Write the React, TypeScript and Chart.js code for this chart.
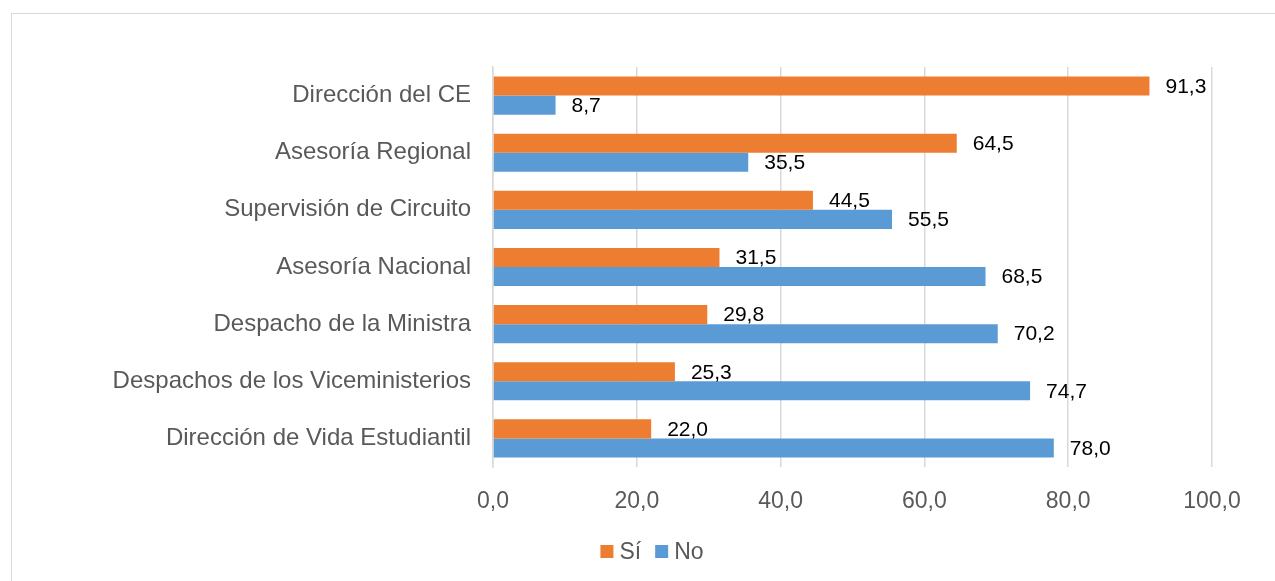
import React, { useEffect, useRef } from "react";
import { Chart, registerables } from "chart.js";

Chart.register(...registerables);

const categories = [
  "Dirección del CE",
  "Asesoría Regional",
  "Supervisión de Circuito",
  "Asesoría Nacional",
  "Despacho de la Ministra",
  "Despachos de los Viceministerios",
  "Dirección de Vida Estudiantil",
];
const siValues = [91.3, 64.5, 44.5, 31.5, 29.8, 25.3, 22.0];
const noValues = [8.7, 35.5, 55.5, 68.5, 70.2, 74.7, 78.0];
const seriesNames = ["Sí", "No"];
const seriesColors = ["#ED7D31", "#5B9BD5"];

const FONT = "'Liberation Sans', Arial, sans-serif";
const fmt = (v: number) => v.toFixed(1).replace(".", ",");

const dataLabels = {
  id: "dataLabels",
  afterDatasetsDraw(chart: any) {
    const ctx = chart.ctx;
    ctx.save();
    ctx.font = `21px ${FONT}`;
    ctx.fillStyle = "#000000";
    ctx.textAlign = "left";
    ctx.textBaseline = "middle";
    chart.data.datasets.forEach((ds: any, i: number) => {
      const meta = chart.getDatasetMeta(i);
      meta.data.forEach((el: any, j: number) => {
        ctx.fillText(fmt(ds.data[j]), el.x + 16, el.y + 1);
      });
    });
    ctx.restore();
  },
};

// Legend drawn below the axis, centered like the original
const LEGEND_CENTER_X = 652;
const LEGEND_Y = 551.5;
const bottomLegend = {
  id: "bottomLegend",
  afterDraw(chart: any) {
    const ctx = chart.ctx;
    ctx.save();
    ctx.font = `23px ${FONT}`;
    ctx.textBaseline = "middle";
    ctx.textAlign = "left";
    const box = 13;
    const gapText = 6;
    const gapItem = 14;
    const widths = chart.data.datasets.map(
      (ds: any) => box + gapText + ctx.measureText(ds.label).width
    );
    const total = widths.reduce((a: number, b: number) => a + b, 0) + gapItem * (widths.length - 1);
    let x = LEGEND_CENTER_X - total / 2;
    chart.data.datasets.forEach((ds: any, i: number) => {
      ctx.fillStyle = ds.backgroundColor;
      ctx.fillRect(x, LEGEND_Y - box / 2, box, box);
      ctx.fillStyle = "#595959";
      ctx.fillText(ds.label, x + box + gapText, LEGEND_Y + 1);
      x += widths[i] + gapItem;
    });
    ctx.restore();
  },
};

export default function App() {
  const ref = useRef<HTMLCanvasElement>(null);
  useEffect(() => {
    if (!ref.current) return;
    const chart = new Chart(ref.current, {
      type: "bar",
      data: {
        labels: categories,
        datasets: [
          {
            label: seriesNames[0],
            data: siValues,
            backgroundColor: seriesColors[0],
            categoryPercentage: 0.667,
            barPercentage: 1.0,
          },
          {
            label: seriesNames[1],
            data: noValues,
            backgroundColor: seriesColors[1],
            categoryPercentage: 0.667,
            barPercentage: 1.0,
          },
        ],
      },
      options: {
        indexAxis: "y",
        animation: false,
        responsive: false,
        maintainAspectRatio: false,
        layout: { padding: { left: 0, right: 63, top: 67, bottom: 0 } },
        scales: {
          x: {
            min: 0,
            max: 100,
            ticks: {
              stepSize: 20,
              color: "#595959",
              font: { family: FONT, size: 23 },
              padding: 21,
              callback: (v: any) => fmt(Number(v)),
            },
            grid: { color: "#d9d9d9", lineWidth: 1.5, drawTicks: false },
            border: { display: false },
            afterFit: (s: any) => {
              s.height = 114;
            },
          },
          y: {
            ticks: {
              color: "#595959",
              font: { family: FONT, size: 24 },
              padding: 22,
            },
            grid: { display: false, drawTicks: false },
            border: { display: true, color: "#d9d9d9", width: 1.5 },
            afterFit: (s: any) => {
              s.width = 493;
            },
          },
        },
        plugins: {
          legend: { display: false },
          tooltip: { enabled: false },
        },
      },
      plugins: [dataLabels, bottomLegend],
    });
    return () => chart.destroy();
  }, []);

  return (
    <div
      style={{
        position: "fixed",
        left: 0,
        top: 0,
        width: 1275,
        height: 581,
        overflow: "hidden",
        background: "#ffffff",
      }}
    >
      <div
        style={{
          position: "absolute",
          left: 11,
          top: 13,
          width: 1300,
          height: 620,
          border: "1px solid #d9d9d9",
          boxSizing: "border-box",
        }}
      />
      <canvas
        ref={ref}
        width={1275}
        height={581}
        style={{ position: "absolute", left: 0, top: 0, width: 1275, height: 581 }}
      />
    </div>
  );
}
